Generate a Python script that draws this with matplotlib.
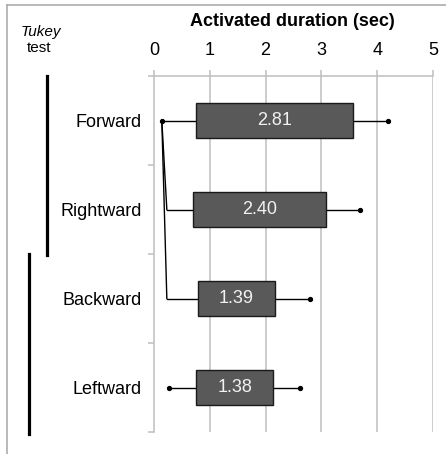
import matplotlib
matplotlib.use("Agg")
import matplotlib.pyplot as plt
from matplotlib.lines import Line2D
from matplotlib.patches import Rectangle

plt.rcParams['font.family'] = ['Liberation Sans', 'DejaVu Sans']

# ---- data ----
categories = ["Forward", "Rightward", "Backward", "Leftward"]
q1 = [0.75, 0.69, 0.78, 0.76]
q3 = [3.56, 3.09, 2.17, 2.14]
whisker_low = [0.14, 0.23, 0.23, 0.26]
whisker_high = [4.19, 3.70, 2.80, 2.62]
means = [2.81, 2.40, 1.39, 1.38]
low_dot = [True, False, False, True]
# Tukey connectors: from category index a's low point to category b's low point
tukey_links = [(0, 1), (0, 2)]
xticks = [0, 1, 2, 3, 4, 5]

W, H = 446, 454
fig = plt.figure(figsize=(W / 100, H / 100), dpi=100)

def fx(px):
    return px / W

def fy(py):
    return 1 - py / H

ax_left, ax_right, ax_top, ax_bottom = 154, 433, 76, 432
ax = fig.add_axes([fx(ax_left), fy(ax_bottom), (ax_right - ax_left) / W, (ax_bottom - ax_top) / H])
ax.set_xlim(0, 5)
ax.set_ylim(3.5, -0.5)

grid_c = "#bfbfbf"
for s in ["bottom", "right"]:
    ax.spines[s].set_visible(False)
ax.spines["left"].set_color(grid_c)
ax.spines["top"].set_color(grid_c)
ax.spines["left"].set_linewidth(1.1)
ax.spines["top"].set_linewidth(1.1)

ax.xaxis.tick_top()
ax.set_xticks(xticks)
ax.set_xticklabels([str(t) for t in xticks], fontsize=13)
ax.tick_params(axis="x", length=4.3, color=grid_c, width=1.1, pad=8)
for t in xticks[1:]:
    ax.axvline(t, color=grid_c, lw=1.1, zorder=0)

ax.set_yticks(range(len(categories)))
ax.set_yticklabels(categories, fontsize=13)
ax.set_yticks([-0.5, 0.5, 1.5, 2.5, 3.5], minor=True)
ax.tick_params(axis="y", which="major", length=0, pad=8.9)
ax.tick_params(axis="y", which="minor", length=4.3, color=grid_c, width=1.1)

bh = 0.40
for i in range(len(categories)):
    ax.plot([whisker_low[i], q1[i]], [i, i], color="black", lw=1, zorder=2)
    ax.plot([q3[i], whisker_high[i]], [i, i], color="black", lw=1, zorder=2)
    ax.plot([whisker_high[i]], [i], marker="o", ms=2.8, color="black", zorder=3)
    if low_dot[i]:
        ax.plot([whisker_low[i]], [i], marker="o", ms=2.8, color="black", zorder=3)
    ax.add_patch(Rectangle((q1[i], i - bh / 2), q3[i] - q1[i], bh,
                           facecolor="#595959", edgecolor="#1a1a1a", lw=1, zorder=4))
    ax.text((q1[i] + q3[i]) / 2, i, f"{means[i]:.2f}", color="#f2f2f2",
            fontsize=13, ha="center", va="center", zorder=5)

for a, b in tukey_links:
    ax.plot([whisker_low[a], whisker_low[b]], [a, b], color="black", lw=1, zorder=2)

# title and Tukey label
fig.text(fx(292), fy(22), "Activated duration (sec)", fontsize=13, fontweight="bold",
         ha="center", va="center")
fig.text(fx(41), fy(32), "Tukey", fontsize=11, fontstyle="italic", ha="center", va="center")
fig.text(fx(39), fy(48), "test", fontsize=11, ha="center", va="center")

# Tukey grouping bars
fig.add_artist(Line2D([fx(46.7), fx(46.7)], [fy(76), fy(255)], color="black", lw=2.3))
fig.add_artist(Line2D([fx(29), fx(29)], [fy(254), fy(434)], color="black", lw=2.3))

# outer frame (top and left edges)
fig.add_artist(Line2D([fx(6.5), 1], [fy(5), fy(5)], color="#a6a6a6", lw=1.1))
fig.add_artist(Line2D([fx(6.5), fx(6.5)], [fy(5), 0], color="#a6a6a6", lw=1.1))

fig.savefig("out.png", dpi=100)
